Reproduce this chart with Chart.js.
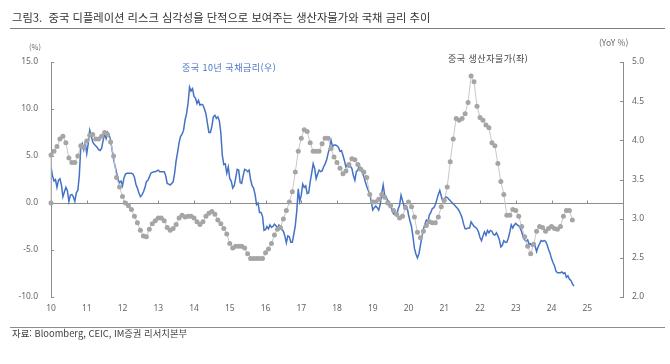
<!DOCTYPE html>
<html lang="ko">
<head>
<meta charset="utf-8">
<script src="https://cdn.jsdelivr.net/npm/chart.js@4.4.1/dist/chart.umd.min.js"></script>
<style>
  html, body { margin: 0; padding: 0; background: #fff; }
  #wrap { position: relative; width: 670px; height: 364px; overflow: hidden;
          font-family: 'Noto Sans CJK KR', 'Noto Sans', sans-serif; }
  #c { position: absolute; left: 0; top: 0; }
  .t { position: absolute; white-space: nowrap; line-height: 1; }
  .rule { position: absolute; left: 10px; width: 655px; }
</style>
</head>
<body>
<div id="wrap">
  <canvas id="c" width="670" height="364"></canvas>
  <div class="t" style="left:12px;top:12px;font-size:11.3px;color:#333;">그림3.&nbsp; 중국 디플레이션 리스크 심각성을 단적으로 보여주는 생산자물가와 국채 금리 추이</div>
  <div class="rule" style="top:28px;height:1px;background:#7f7f7f;"></div>
  <div class="t" style="left:29px;top:43px;font-size:7.5px;color:#666;">(%)</div>
  <div class="t" style="left:599px;top:38px;font-size:8.5px;color:#666;">(YoY %)</div>
  <div class="t" style="left:182px;top:63px;font-size:9px;letter-spacing:0.5px;color:#4472c4;">중국 10년 국채금리(우)</div>
  <div class="t" style="left:448px;top:54px;font-size:9px;letter-spacing:0.5px;color:#404040;">중국 생산자물가(좌)</div>
  <div class="rule" style="top:327px;height:1px;background:#8c8c8c;"></div>
  <div class="t" style="left:12px;top:329px;font-size:9.4px;color:#404040;">자료: Bloomberg, CEIC, IM증권 리서치본부</div>
</div>
<script>
// x axis tick labels (year, two digits)
const yearLabels = ['10', '11', '12', '13', '14', '15', '16', '17', '18', '19', '20', '21', '22', '23', '24', '25'];

// first PPI point in the source sits at 0 on the axis start
const ppiFirst = 0;

// China PPI YoY %, monthly from Jan 2010 (left axis)
const ppi = [
  5.1, 5.5, 6.0, 6.8, 7.1, 6.4, 4.8, 4.3, 4.3, 5.0, 6.1, 5.9,
  6.6, 7.2, 7.3, 6.8, 6.8, 7.1, 7.5, 7.3, 6.5, 5.0, 2.7, 1.7,
  0.7, 0.0, -0.3, -0.7, -1.4, -2.1, -2.9, -3.5, -3.6, -2.8, -2.2, -1.9,
  -1.6, -1.6, -1.9, -2.6, -2.9, -2.7, -2.3, -1.6, -1.3, -1.5, -1.4, -1.4,
  -1.6, -2.0, -2.3, -2.0, -1.4, -1.1, -0.9, -1.2, -1.8, -2.2, -2.7, -3.3,
  -4.3, -4.8, -4.6, -4.6, -4.6, -4.8, -5.4, -5.9, -5.9, -5.9, -5.9, -5.9,
  -5.3, -4.9, -4.3, -3.4, -2.8, -2.6, -1.7, -0.8, 0.1, 1.2, 3.3, 5.5,
  6.9, 7.8, 7.6, 6.4, 5.5, 5.5, 5.5, 6.3, 6.9, 6.9, 5.8, 4.9,
  4.3, 3.7, 3.1, 3.4, 4.1, 4.7, 4.6, 4.1, 3.6, 3.3, 2.7, 0.9,
  0.1, 0.1, 0.4, 0.9, 0.6, 0.0, -0.3, -0.8, -1.2, -1.6, -1.4, -0.5,
  0.1, -0.4, -1.5, -3.1, -3.7, -3.0, -2.4, -2.0, -2.1, -2.1, -1.5, -0.4,
  0.3, 1.7, 4.4, 6.8, 9.0, 8.8, 9.0, 9.5, 10.7, 13.5, 12.9, 10.3,
  9.1, 8.8, 8.3, 8.0, 6.4, 6.1, 4.2, 2.3, 0.9, -1.3, -1.3, -0.7,
  -0.8, -1.4, -2.5, -3.6, -4.6, -5.4, -4.4, -3.0, -2.5, -2.6, -3.0, -2.7,
  -2.5, -2.7, -2.8, -2.5, -1.4, -0.8, -0.8, -1.8
];

// China 10Y government bond yield %, twice a month from Jan 2010 (right axis)
const cgb10y = [
  3.66, 3.55, 3.48, 3.50, 3.40, 3.49, 3.51, 3.43, 3.28, 3.34, 3.40, 3.36, 3.22, 3.30, 3.31, 3.28, 3.22, 3.33, 3.36, 3.55, 3.92, 3.96, 3.88, 3.97,
  3.83, 3.96, 4.13, 4.06, 3.98, 3.95, 3.93, 3.91, 3.88, 3.87, 3.90, 4.00, 4.08, 4.02, 4.10, 4.07, 4.00, 3.88, 3.76, 3.67, 3.59, 3.50, 3.46, 3.48,
  3.42, 3.52, 3.57, 3.58, 3.58, 3.58, 3.58, 3.57, 3.53, 3.44, 3.39, 3.33, 3.28, 3.30, 3.34, 3.39, 3.47, 3.49, 3.53, 3.58, 3.59, 3.60, 3.60, 3.61,
  3.62, 3.60, 3.60, 3.60, 3.60, 3.55, 3.45, 3.44, 3.43, 3.45, 3.47, 3.58, 3.74, 3.85, 3.97, 4.05, 4.08, 4.13, 4.26, 4.34, 4.47, 4.68, 4.63, 4.66,
  4.56, 4.54, 4.47, 4.51, 4.45, 4.46, 4.45, 4.40, 4.34, 4.22, 4.10, 4.10, 4.18, 4.30, 4.32, 4.28, 4.30, 4.25, 4.10, 3.81, 3.69, 3.70, 3.58, 3.66,
  3.51, 3.48, 3.39, 3.42, 3.52, 3.63, 3.62, 3.46, 3.45, 3.55, 3.63, 3.62, 3.60, 3.62, 3.50, 3.42, 3.39, 3.31, 3.18, 3.20, 3.08, 3.08, 3.03, 2.85,
  2.86, 2.90, 2.87, 2.92, 2.89, 2.90, 2.93, 2.91, 2.88, 2.92, 2.90, 2.86, 2.84, 2.78, 2.69, 2.78, 2.77, 2.70, 2.70, 2.80, 2.91, 3.10, 3.38, 3.22,
  3.30, 3.44, 3.40, 3.42, 3.32, 3.33, 3.47, 3.58, 3.70, 3.64, 3.51, 3.57, 3.62, 3.60, 3.61, 3.66, 3.70, 3.75, 3.83, 3.90, 4.00, 3.92, 3.94, 3.94,
  3.93, 3.91, 3.86, 3.87, 3.81, 3.74, 3.66, 3.69, 3.66, 3.67, 3.64, 3.55, 3.49, 3.60, 3.62, 3.68, 3.63, 3.59, 3.54, 3.47, 3.41, 3.36, 3.32, 3.22,
  3.11, 3.14, 3.16, 3.14, 3.11, 3.18, 3.32, 3.43, 3.30, 3.28, 3.23, 3.22, 3.17, 3.10, 3.06, 3.07, 3.04, 3.12, 3.17, 3.30, 3.23, 3.16, 3.17, 3.15,
  3.05, 2.97, 2.90, 2.77, 2.62, 2.55, 2.50, 2.55, 2.66, 2.77, 2.86, 2.93, 2.98, 2.96, 3.05, 3.08, 3.13, 3.14, 3.18, 3.24, 3.31, 3.36, 3.29, 3.22,
  3.25, 3.28, 3.27, 3.25, 3.23, 3.21, 3.19, 3.17, 3.15, 3.13, 3.10, 3.06, 3.01, 2.93, 2.87, 2.87, 2.88, 2.88, 2.96, 2.93, 2.90, 2.89, 2.87, 2.83,
  2.76, 2.72, 2.78, 2.83, 2.79, 2.85, 2.82, 2.85, 2.84, 2.80, 2.79, 2.82, 2.78, 2.73, 2.64, 2.66, 2.72, 2.70, 2.70, 2.75, 2.83, 2.92, 2.88, 2.92,
  2.94, 2.92, 2.91, 2.88, 2.83, 2.76, 2.73, 2.71, 2.73, 2.67, 2.68, 2.65, 2.66, 2.65, 2.58, 2.64, 2.68, 2.72, 2.71, 2.72, 2.71, 2.67, 2.61, 2.56,
  2.49, 2.44, 2.40, 2.33, 2.31, 2.31, 2.31, 2.32, 2.30, 2.31, 2.25, 2.27, 2.23, 2.21, 2.17, 2.14
];

const startYear = 2010;

const ppiPoints = [{x: startYear, y: ppiFirst}].concat(
  ppi.map((v, i) => ({x: startYear + i / 12, y: v})));
const bondPoints = cgb10y.map((v, i) => ({x: startYear + i / 24, y: v}));

const axisGray = '#8c8c8c';
const tickFont = {family: "'Noto Sans', sans-serif", size: 8.5};

// zero line with year ticks, and inward ticks on both value axes
const axisMarks = {
    id: 'axisMarks',
    beforeDatasetsDraw(chart) {
        const {ctx, chartArea: a, scales: {x, y, y1}} = chart;
        ctx.save();
        ctx.strokeStyle = axisGray;
        ctx.lineWidth = 1;
        ctx.beginPath();
        const y0 = Math.round(y.getPixelForValue(0)) + 0.5;
        ctx.moveTo(a.left, y0);
        ctx.lineTo(a.right, y0);
        x.ticks.forEach(t => {
            const px = Math.round(x.getPixelForValue(t.value)) + 0.5;
            ctx.moveTo(px, y0);
            ctx.lineTo(px, y0 - 3);
        });
        y.ticks.forEach(t => {
            const py = Math.round(y.getPixelForValue(t.value)) + 0.5;
            ctx.moveTo(a.left, py);
            ctx.lineTo(a.left + 3, py);
        });
        y1.ticks.forEach(t => {
            const py = Math.round(y1.getPixelForValue(t.value)) + 0.5;
            ctx.moveTo(a.right, py);
            ctx.lineTo(a.right - 3, py);
        });
        ctx.stroke();
        ctx.restore();
    }
};

const data = {
    datasets: [{
        label: '중국 생산자물가(좌)',
        data: ppiPoints,
        yAxisID: 'y',
        borderColor: '#c8c8c8',
        borderWidth: 1,
        pointRadius: 2.5,
        pointBackgroundColor: '#a5a5a5',
        pointBorderColor: '#a5a5a5',
        pointBorderWidth: 0,
        clip: false
    }, {
        label: '중국 10년 국채금리(우)',
        data: bondPoints,
        yAxisID: 'y1',
        borderColor: '#4472c4',
        borderWidth: 1.5,
        pointRadius: 0
    }]
};

const config = {
    type: 'line',
    data: data,
    options: {
        responsive: false,
        animation: false,
        layout: {padding: {top: 62, left: 0, right: 0, bottom: 0}},
        plugins: {
            legend: {display: false},
            tooltip: {enabled: false}
        },
        scales: {
            x: {
                type: 'linear',
                min: 2010,
                max: 2026,
                afterFit: s => { s.height = 67; },
                grid: {display: false, drawTicks: false},
                border: {display: false},
                ticks: {
                    stepSize: 1,
                    autoSkip: false,
                    maxRotation: 0,
                    padding: 6,
                    color: '#666',
                    font: tickFont,
                    callback: v => yearLabels[Math.round(v) - startYear] || ''
                }
            },
            y: {
                position: 'left',
                min: -10,
                max: 15,
                afterFit: s => { s.width = 51; },
                grid: {drawOnChartArea: false, drawTicks: false},
                border: {display: true, color: axisGray, width: 1},
                ticks: {
                    stepSize: 5,
                    padding: 13,
                    color: '#666',
                    font: tickFont,
                    callback: v => v.toFixed(1)
                }
            },
            y1: {
                position: 'right',
                min: 2,
                max: 5,
                afterFit: s => { s.width = 47; },
                grid: {drawOnChartArea: false, drawTicks: false},
                border: {display: true, color: axisGray, width: 1},
                ticks: {
                    stepSize: 0.5,
                    padding: 9,
                    color: '#666',
                    font: tickFont,
                    callback: v => v.toFixed(1)
                }
            }
        }
    },
    plugins: [axisMarks]
};

let ctx = document.getElementById('c').getContext('2d');

new Chart(ctx, config);
</script>
</body>
</html>
